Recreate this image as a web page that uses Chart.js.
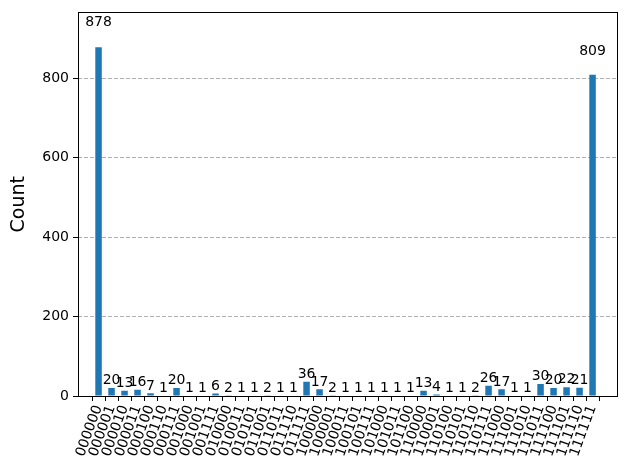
<!DOCTYPE html>
<html>
<head>
<meta charset="utf-8">
<script src="https://cdn.jsdelivr.net/npm/chart.js@4.4.0/dist/chart.umd.min.js"></script>
<style>
  html, body { margin: 0; padding: 0; background: #fff; }
  #wrap { width: 630px; height: 470px; }
</style>
</head>
<body>
<div id="wrap"><canvas id="myChart" width="630" height="470"></canvas></div>
<script>
// measured bitstrings and their counts
const states = [
  '000000', '000001', '000010', '000011', '000100', '000110', '000111', '001000',
  '001001', '001111', '010000', '010011', '010101', '011001', '011011', '011110',
  '011111', '100000', '100001', '100011', '100101', '100111', '101000', '101011',
  '101100', '110000', '110001', '110100', '110101', '110110', '110111', '111000',
  '111001', '111010', '111011', '111100', '111101', '111110', '111111'
];
const counts = [
  878, 20, 13, 16, 7, 1, 20, 1,
  1, 6, 2, 1, 1, 2, 1, 1,
  36, 17, 2, 1, 1, 1, 1, 1,
  1, 13, 4, 1, 1, 2, 26, 17,
  1, 1, 30, 20, 22, 21, 809
];
const yTicks = [0, 200, 400, 600, 800];
const yMax = 965.8;

const FONT = 'DejaVu Sans';

// value text above each bar (at 1.05 * value, like the original)
const barLabels = {
  id: 'barLabels',
  afterDatasetsDraw(chart) {
    const ctx = chart.ctx;
    const xs = chart.scales.x, ys = chart.scales.y;
    ctx.save();
    ctx.font = '14px "' + FONT + '"';
    ctx.fillStyle = '#000';
    ctx.textAlign = 'center';
    ctx.textBaseline = 'bottom';
    counts.forEach((v, i) => {
      ctx.fillText(String(v), xs.getPixelForValue(i), ys.getPixelForValue(v * 1.05));
    });
    ctx.restore();
  }
};

// black box round the plot area
const frame = {
  id: 'frame',
  afterDraw(chart) {
    const a = chart.chartArea;
    const ctx = chart.ctx;
    ctx.save();
    ctx.strokeStyle = '#000';
    ctx.lineWidth = 1;
    ctx.strokeRect(Math.round(a.left) + 0.5, Math.round(a.top) + 0.5,
                   Math.round(a.right - a.left), Math.round(a.bottom - a.top));
    ctx.restore();
  }
};

const ctx = document.getElementById('myChart').getContext('2d');
new Chart(ctx, {
  type: 'bar',
  data: {
    datasets: [{
      data: counts.map((v, i) => ({ x: i, y: v })),
      backgroundColor: '#1f77b4',
      borderWidth: 0,
      barPercentage: 0.5,
      categoryPercentage: 1.0
    }]
  },
  options: {
    responsive: false,
    animation: false,
    devicePixelRatio: 1,
    layout: { padding: { top: 10, right: 13, left: 0, bottom: 0 } },
    plugins: { legend: { display: false }, tooltip: { enabled: false } },
    scales: {
      x: {
        type: 'linear',
        offset: false,
        min: -1.58,
        max: 39.88,
        afterBuildTicks: (s) => { s.ticks = states.map((_, i) => ({ value: i })); },
        afterFit: (s) => { s.height = 74; },
        ticks: {
          autoSkip: false,
          maxRotation: 70,
          minRotation: 70,
          padding: 2,
          color: '#000',
          font: { family: FONT, size: 14 },
          callback: (v) => states[v]
        },
        grid: {
          drawOnChartArea: false,
          drawTicks: true,
          tickLength: 5,
          tickColor: '#000',
          tickWidth: 1
        },
        border: { display: false }
      },
      y: {
        min: 0,
        max: yMax,
        afterBuildTicks: (s) => { s.ticks = yTicks.map(v => ({ value: v })); },
        afterFit: (s) => { s.width = 78; },
        ticks: {
          padding: 4,
          color: '#000',
          font: { family: FONT, size: 14 }
        },
        grid: {
          color: '#b0b0b0',
          lineWidth: 1,
          tickLength: 5,
          tickColor: '#000',
          tickWidth: 1,
          tickBorderDash: []
        },
        border: { display: false, dash: [4, 2] },
        title: {
          display: true,
          text: 'Count',
          color: '#000',
          font: { family: FONT, size: 19 },
          padding: { top: 8, bottom: 0 }
        }
      }
    }
  },
  plugins: [barLabels, frame]
});
</script>
</body>
</html>
